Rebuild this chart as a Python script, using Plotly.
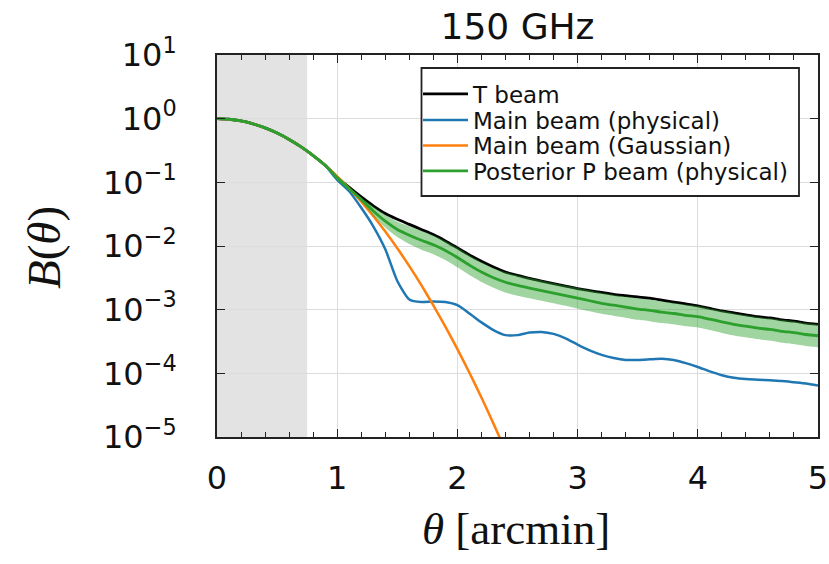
import numpy as np
import plotly.graph_objects as go

# ---------------- data ----------------
theta = [round(0.1 * i, 1) for i in range(51)]

# log10 B(theta)
t_beam_log10 = [0, -0.009, -0.036, -0.081, -0.145, -0.226, -0.326, -0.443, -0.579, -0.733,
                -0.92, -1.08, -1.23, -1.37, -1.49, -1.58, -1.66, -1.74, -1.82, -1.92,
                -2.03, -2.14, -2.24, -2.33, -2.41, -2.46, -2.51, -2.55, -2.59, -2.63,
                -2.67, -2.70, -2.73, -2.76, -2.78, -2.80, -2.82, -2.85, -2.88, -2.91,
                -2.94, -2.98, -3.02, -3.05, -3.08, -3.11, -3.13, -3.16, -3.18, -3.21,
                -3.23]

main_phys_log10 = [0, -0.009, -0.036, -0.081, -0.145, -0.226, -0.326, -0.443, -0.579, -0.735,
                   -0.96, -1.14, -1.40, -1.69, -2.05, -2.55, -2.84, -2.88, -2.87, -2.88,
                   -2.93, -3.06, -3.20, -3.32, -3.40, -3.40, -3.36, -3.35, -3.38, -3.45,
                   -3.55, -3.64, -3.71, -3.76, -3.79, -3.79, -3.78, -3.77, -3.79, -3.84,
                   -3.90, -3.97, -4.03, -4.07, -4.09, -4.10, -4.11, -4.12, -4.14, -4.16,
                   -4.19]

theta_gauss = [round(0.1 * i, 1) for i in range(25)]
main_gauss_log10 = [0, -0.009, -0.036, -0.081, -0.145, -0.226, -0.326, -0.443, -0.579, -0.733,
                    -0.905, -1.095, -1.303, -1.529, -1.774, -2.036, -2.317, -2.615, -2.932, -3.267,
                    -3.62, -3.99, -4.38, -4.79, -5.21]

post_p_log10 = [0, -0.009, -0.036, -0.081, -0.145, -0.226, -0.326, -0.443, -0.579, -0.733,
                -0.93, -1.10, -1.27, -1.45, -1.61, -1.74, -1.83, -1.91, -1.98, -2.07,
                -2.18, -2.30, -2.41, -2.50, -2.57, -2.62, -2.66, -2.70, -2.74, -2.78,
                -2.82, -2.86, -2.90, -2.93, -2.96, -2.99, -3.01, -3.04, -3.06, -3.09,
                -3.11, -3.15, -3.19, -3.23, -3.26, -3.29, -3.31, -3.34, -3.36, -3.39,
                -3.41]

post_p_halfwidth = [0, 0, 0, 0, 0, 0, 0, 0, 0, 0,
                    0, 0.01, 0.03, 0.07, 0.10, 0.12, 0.14, 0.15, 0.15, 0.15,
                    0.155, 0.155, 0.155, 0.155, 0.16, 0.16, 0.16, 0.16, 0.16, 0.16,
                    0.165, 0.165, 0.165, 0.165, 0.165, 0.17, 0.17, 0.17, 0.17, 0.17,
                    0.17, 0.17, 0.175, 0.175, 0.175, 0.175, 0.175, 0.18, 0.18, 0.18,
                    0.18]

shade_range = [0, 0.75]
ytick_exps = [1, 0, -1, -2, -3, -4, -5]
xtick_vals = [0, 1, 2, 3, 4, 5]

# ---------------- figure ----------------
def pw(a):
    return np.power(10.0, np.asarray(a, dtype=float))

c_black = "#000000"
c_blue = "#1f77b4"
c_orange = "#ff7f0e"
c_green = "#2ca02c"

fig = go.Figure()
fig.add_trace(go.Scatter(x=theta, y=pw(t_beam_log10), mode="lines", name="T beam", legend="legend",
                         line=dict(color=c_black, width=2.8, shape="spline", smoothing=0.6)))
fig.add_trace(go.Scatter(x=theta, y=pw(main_phys_log10), mode="lines", name="Main beam (physical)", legend="legend2",
                         line=dict(color=c_blue, width=2.5, shape="spline", smoothing=0.6)))
fig.add_trace(go.Scatter(x=theta_gauss, y=pw(main_gauss_log10), mode="lines", name="Main beam (Gaussian)", legend="legend3",
                         line=dict(color=c_orange, width=2.5, shape="spline", smoothing=0.6)))
lp = np.asarray(post_p_log10)
hw = np.asarray(post_p_halfwidth)
fig.add_trace(go.Scatter(x=theta, y=pw(lp + hw), mode="lines", line=dict(width=0, shape="spline", smoothing=0.6),
                         showlegend=False, hoverinfo="skip"))
fig.add_trace(go.Scatter(x=theta, y=pw(lp - hw), mode="lines", line=dict(width=0, shape="spline", smoothing=0.6),
                         fill="tonexty", fillcolor="rgba(44,160,44,0.45)", showlegend=False, hoverinfo="skip"))
fig.add_trace(go.Scatter(x=theta, y=pw(post_p_log10), mode="lines", name="Posterior P beam (physical)", legend="legend4",
                         line=dict(color=c_green, width=2.8, shape="spline", smoothing=0.6)))

# page body margin is removed (post_script below), so figure pixels == reference pixels
OFF = 0
W, H = 829, 564
PL, PR, PT, PB = 217, 818, 55, 437          # plot-area edges in reference pixels
L, R, T, B = PL - OFF, W - (PR - OFF), PT - OFF, H - (PB - OFF)
pw_px = W - L - R
ph_px = H - T - B

def px2paperx(px):
    return (px - OFF - L) / pw_px

def py2papery(py):
    return (H - B - (py - OFF)) / ph_px

# shaded excluded region
fig.add_shape(type="rect", xref="x", yref="paper", x0=shade_range[0], x1=shade_range[1], y0=0, y1=1,
              fillcolor="#e3e3e3", line=dict(width=0), layer="below")
# legend box
fig.add_shape(type="rect", xref="paper", yref="paper",
              x0=px2paperx(421.5), x1=px2paperx(799), y0=py2papery(196), y1=py2papery(68),
              fillcolor="white", line=dict(color="#222222", width=1.8), layer="above")

tickfont = dict(family="DejaVu Sans", size=32, color="#111111")

def legend_row(yc):
    return dict(x=px2paperx(418), y=py2papery(yc), xanchor="left", yanchor="middle",
                bgcolor="rgba(0,0,0,0)", borderwidth=0, itemwidth=45,
                font=dict(family="DejaVu Sans", size=23, color="#111111"))

fig.update_layout(
    width=W, height=H,
    margin=dict(l=L, r=R, t=T, b=B, autoexpand=False),
    paper_bgcolor="white", plot_bgcolor="white",
    showlegend=True,
    legend=legend_row(94),
    legend2=legend_row(120),
    legend3=legend_row(145.5),
    legend4=legend_row(171),
    title=dict(text="150 GHz", x=px2paperx(517.5), xref="paper", xanchor="center",
               y=1 - (26 - OFF) / H, yref="container", yanchor="middle",
               font=dict(family="DejaVu Sans", size=36, color="#111111")),
)

fig.update_xaxes(range=[0, 5], tickvals=xtick_vals, ticktext=[str(v) for v in xtick_vals],
                 automargin=False, ticklabeloverflow="allow",
                 showgrid=True, gridcolor="#dcdcdc", gridwidth=1,
                 showline=True, linecolor="#222222", linewidth=1.8, mirror="ticks",
                 ticks="inside", ticklen=8, tickwidth=1.4, tickcolor="#222222",
                 minor=dict(dtick=0.2, ticks="inside", ticklen=5, tickwidth=1.2, tickcolor="#222222", showgrid=False),
                 tickfont=tickfont, ticklabelstandoff=12, zeroline=False)
fig.update_yaxes(type="log", range=[-5, 1], automargin=False, ticklabeloverflow="allow",
                 tickvals=[10.0 ** e for e in ytick_exps],
                 ticktext=["10<sup>%s</sup>" % (str(e) if e >= 0 else "\u2212" + str(-e)) for e in ytick_exps],
                 showgrid=True, gridcolor="#dcdcdc", gridwidth=1,
                 showline=True, linecolor="#222222", linewidth=1.8, mirror="ticks",
                 ticks="inside", ticklen=8, tickwidth=1.4, tickcolor="#222222",
                 tickfont=tickfont, ticklabelstandoff=32, zeroline=False)

# axis titles
fig.add_annotation(text="<i>B</i>(<i>θ</i>)", xref="paper", yref="paper",
                   x=px2paperx(44), y=py2papery(248), textangle=-90, showarrow=False,
                   xanchor="center", yanchor="middle",
                   font=dict(family="Liberation Serif", size=47, color="#111111"))
fig.add_annotation(text="<i>θ</i> [arcmin]", xref="paper", yref="paper",
                   x=px2paperx(516), y=py2papery(529), showarrow=False,
                   xanchor="center", yanchor="middle",
                   font=dict(family="Liberation Serif", size=45, color="#111111"))

fig.write_html("out.html",
               config={"displayModeBar": False},
               post_script="document.body.style.margin='0';document.body.style.overflow='hidden';")
